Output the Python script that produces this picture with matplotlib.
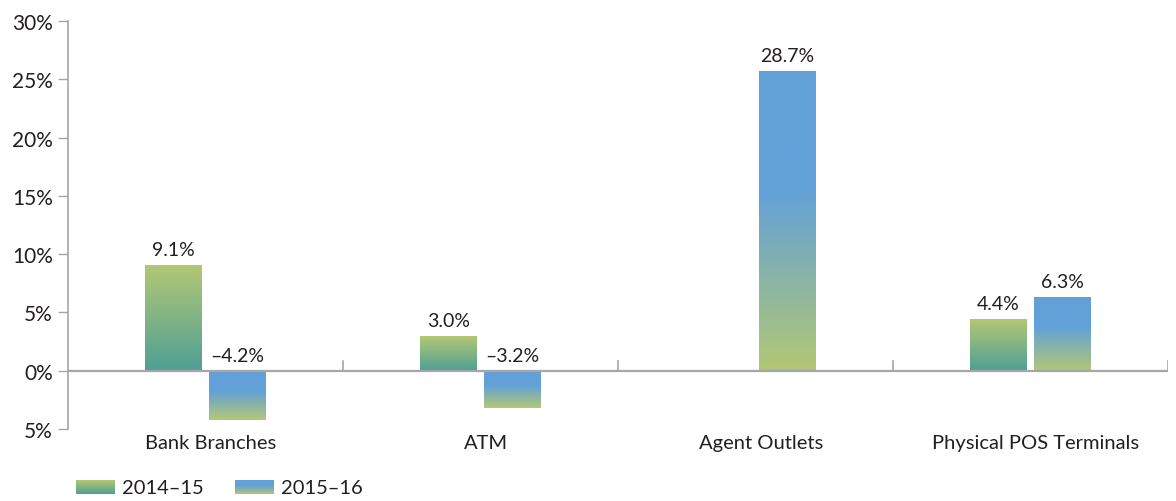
import matplotlib.pyplot as plt
import numpy as np
from matplotlib.colors import LinearSegmentedColormap

plt.rcParams["font.family"] = ["Lato", "DejaVu Sans"]

# Data
categories = ["Bank Branches", "ATM", "Agent Outlets", "Physical POS Terminals"]
series_names = ["2014\u201315", "2015\u201316"]
values_1415 = [9.1, 3.0, np.nan, 4.4]
values_1516 = [-4.2, -3.2, 25.7, 6.3]
labels_1415 = ["9.1%", "3.0%", "", "4.4%"]
labels_1516 = ["\u20134.2%", "\u20133.2%", "28.7%", "6.3%"]
yticks = [-5, 0, 5, 10, 15, 20, 25, 30]
ytick_labels = ["5%", "0%", "5%", "10%", "15%", "20%", "25%", "30%"]

GREEN = "#b3c874"
TEAL = "#4f9f96"
BLUE = "#62a1d8"
AXIS_GREY = "#a6a6a6"
TEXT = "#231f20"

# top -> bottom gradients
cmap_1415 = LinearSegmentedColormap.from_list("g1415", [(0, GREEN), (1, TEAL)])
cmap_1516 = LinearSegmentedColormap.from_list(
    "g1516", [(0, BLUE), (0.4, BLUE), (1, GREEN)]
)


def gradient_bars(ax, x, heights, width, cmap):
    grad = np.linspace(0, 1, 256).reshape(-1, 1)
    bars = ax.bar(x, heights, width, color="none", edgecolor="none")
    for bar, h in zip(bars, heights):
        if np.isnan(h):
            continue
        x0 = bar.get_x()
        im = ax.imshow(
            grad,
            cmap=cmap,
            aspect="auto",
            extent=(x0, x0 + bar.get_width(), min(0, h), max(0, h)),
            origin="upper",
            zorder=2,
        )
        im.set_clip_path(bar)
    return bars


fig = plt.figure(figsize=(11.76, 5.02), dpi=100)
ax = fig.add_axes([68 / 1176, 1 - 430 / 502, 1100 / 1176, 408 / 502])

x = np.arange(len(categories))
width = 0.207
offset = 0.116

gradient_bars(ax, x - offset, values_1415, width, cmap_1415)
gradient_bars(ax, x + offset, values_1516, width, cmap_1516)

for xi, v, lab in zip(x - offset, values_1415, labels_1415):
    if lab:
        ax.text(xi, max(v, 0) + 0.6, lab, ha="center", va="bottom",
                fontsize=14, color=TEXT)
for xi, v, lab in zip(x + offset, values_1516, labels_1516):
    ax.text(xi, max(v, 0) + 0.6, lab, ha="center", va="bottom",
            fontsize=14, color=TEXT)

ax.set_xlim(-0.5, len(categories) - 0.5)
ax.set_ylim(-5, 30)

# zero line with separators between categories
ax.axhline(0, color=AXIS_GREY, lw=1.6, zorder=3)
for sep in np.arange(0.5, len(categories), 1.0):
    ax.plot([sep, sep], [0, 0.8], color=AXIS_GREY, lw=1.2, zorder=3)

for side in ["top", "right", "bottom"]:
    ax.spines[side].set_visible(False)
ax.spines["left"].set_color(AXIS_GREY)
ax.spines["left"].set_linewidth(1.2)

ax.set_yticks(yticks)
ax.set_yticklabels(ytick_labels, fontsize=15, color=TEXT)
ax.tick_params(axis="y", length=7, width=1.0, color=AXIS_GREY, pad=4)
ax.set_xticks([])

for xi, cat in zip(x, categories):
    ax.text(xi + 0.02, -5.45, cat, ha="center", va="top", fontsize=14.5,
            color=TEXT)

# legend with gradient swatches
grad = np.linspace(0, 1, 64).reshape(-1, 1)
for left, cmap, name in [(76, cmap_1415, series_names[0]),
                         (235, cmap_1516, series_names[1])]:
    sw = fig.add_axes([left / 1176, 1 - 495 / 502, 39 / 1176, 14 / 502])
    sw.imshow(grad, cmap=cmap, aspect="auto")
    sw.set_axis_off()
    fig.text((left + 46) / 1176, 1 - 489 / 502, name, ha="left",
             va="center", fontsize=14.5, color=TEXT)

fig.savefig("out.png", dpi=100)
